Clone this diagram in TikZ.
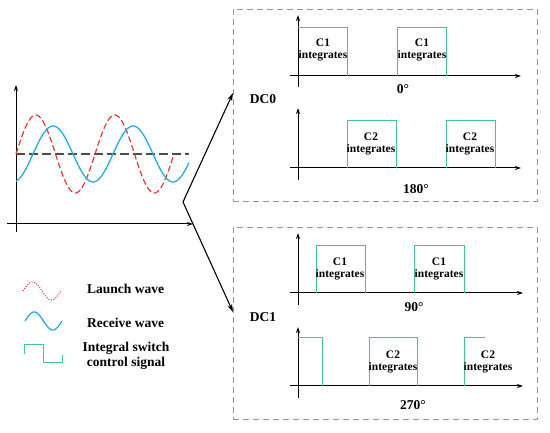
\documentclass[tikz,border=0pt]{standalone}
\usepackage{fontspec}
\setmainfont{Liberation Serif}
\usetikzlibrary{arrows.meta}
\definecolor{wred}{RGB}{232,52,52}
\definecolor{wblue}{RGB}{30,176,224}
\definecolor{wgreen}{RGB}{60,200,140}
\definecolor{boxgray}{RGB}{150,150,150}
\tikzset{
  axis/.style={line width=1pt,-{Stealth[length=6pt,width=4pt]}},
  pulse/.style={wgreen,line width=1pt},
  plab/.style={font=\fontsize{11.5}{12.5}\selectfont\bfseries,align=center,inner sep=0pt},
  blab/.style={font=\fontsize{13.5}{15}\selectfont\bfseries,inner sep=0pt},
  dbox/.style={draw=boxgray,dash pattern=on 6pt off 4pt,line width=0.8pt,minimum width=304pt,minimum height=192pt,inner sep=0pt},
  bigarrow/.style={line width=1.1pt,-{Stealth[length=8pt,width=5pt]}}
}
\begin{document}
\begin{tikzpicture}[x=1pt,y=-1pt]
\useasboundingbox (0,0) rectangle (550,433);
% ---------- left waveform plot ----------
\coordinate (ly0) at (16,232);
\coordinate (ly1) at (16,85);
\coordinate (lx0) at (7,224);
\coordinate (lx1) at (193,224);
\draw[axis] (ly0) -- (ly1);
\draw[axis] (lx0) -- (lx1);
\coordinate (m0) at (16,154);
\coordinate (m1) at (189,154);
\draw[black!70,line width=1.3pt,dash pattern=on 9pt off 4pt] (m0) -- (m1);
\draw[wred,line width=1.2pt,dash pattern=on 6pt off 3pt] plot[domain=16:174,samples=160,smooth] (\x,{154-39*sin((\x-16)/79*360)});
\draw[wblue,line width=1.3pt] plot[domain=16:189,samples=170,smooth] (\x,{154+28*cos((\x-13)/80*360)});
% ---------- boxes ----------
\node[dbox] (box0) at (385,105) {};
\node[dbox] (box1) at (385,323) {};
\coordinate (v) at (183,202);
\coordinate (t0) at (233,93);
\coordinate (t1) at (233,312);
\draw[bigarrow] (v) -- (t0);
\draw[bigarrow] (v) -- (t1);
\node[blab] (dc0) at (263,99) {DC0};
\node[blab] (dc1) at (263,317) {DC1};
% ---------- 0 deg ----------
\coordinate (a0y0) at (298,87); \coordinate (a0y1) at (298,15);
\coordinate (a0x0) at (290,76); \coordinate (a0x1) at (521,76);
\draw[axis] (a0y0) -- (a0y1);
\draw[axis] (a0x0) -- (a0x1);
\draw[pulse] (298,28) -- (347,28) -- (347,76);
\draw[pulse] (397,76) -- (397,28) -- (446,28) -- (446,76);
\node[plab] (l01) at (323,50) {C1\\integrates};
\node[plab] (l02) at (422,50) {C1\\integrates};
\node[blab] (deg0) at (403,89) {0°};
% ---------- 180 deg ----------
\coordinate (a1y0) at (298,180); \coordinate (a1y1) at (298,108);
\coordinate (a1x0) at (290,168); \coordinate (a1x1) at (521,168);
\draw[axis] (a1y0) -- (a1y1);
\draw[axis] (a1x0) -- (a1x1);
\draw[pulse] (347,168) -- (347,121) -- (396,121) -- (396,168);
\draw[pulse] (446,168) -- (446,121) -- (495,121) -- (495,168);
\node[plab] (l11) at (371,144) {C2\\integrates};
\node[plab] (l12) at (470,144) {C2\\integrates};
\node[blab] (deg180) at (416,189) {180°};
% ---------- 90 deg ----------
\coordinate (a2y0) at (298,305); \coordinate (a2y1) at (298,233);
\coordinate (a2x0) at (290,293); \coordinate (a2x1) at (523,293);
\draw[axis] (a2y0) -- (a2y1);
\draw[axis] (a2x0) -- (a2x1);
\draw[pulse] (316,293) -- (316,246) -- (365,246) -- (365,293);
\draw[pulse] (414,293) -- (414,246) -- (464,246) -- (464,293);
\node[plab] (l21) at (340,269) {C1\\integrates};
\node[plab] (l22) at (439,269) {C1\\integrates};
\node[blab] (deg90) at (414,307) {90°};
% ---------- 270 deg ----------
\coordinate (a3y0) at (298,398); \coordinate (a3y1) at (298,327);
\coordinate (a3x0) at (290,386); \coordinate (a3x1) at (523,386);
\draw[axis] (a3y0) -- (a3y1);
\draw[axis] (a3x0) -- (a3x1);
\draw[pulse] (298,338) -- (322,338) -- (322,386);
\draw[pulse] (369,386) -- (369,338) -- (417,338) -- (417,386);
\draw[pulse] (464,386) -- (464,338) -- (485,338);
\node[plab] (l31) at (393,362) {C2\\integrates};
\node[plab] (l32) at (488,362) {C2\\integrates};
\node[blab] (deg270) at (413,405) {270°};
% ---------- legend ----------
\draw[wred,line width=1.1pt,dash pattern=on 1pt off 1.5pt] plot[domain=23:61,samples=60,smooth] (\x,{291-9*sin((\x-23)/38*360)});
\draw[wblue,line width=1.3pt] plot[domain=25:62,samples=60,smooth] (\x,{321-9*sin((\x-25)/37*360)});
\draw[pulse] (24,354) -- (24,345) -- (43,345) -- (43,363) -- (62,363) -- (62,355);
\node[blab,anchor=west] (lg1) at (87,289) {Launch wave};
\node[blab,anchor=west] (lg2) at (87,323) {Receive wave};
\node[blab,align=center] (lg3) at (126,356) {Integral switch\\control signal};
\end{tikzpicture}
\end{document}
